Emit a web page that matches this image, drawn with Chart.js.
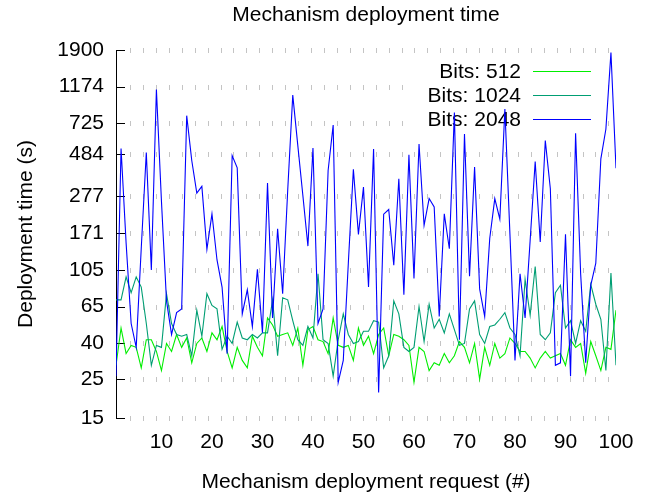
<!DOCTYPE html>
<html>
<head>
<meta charset="utf-8">
<script src="https://cdn.jsdelivr.net/npm/chart.js@4.4.1/dist/chart.umd.min.js"></script>
<style>
  html, body { margin: 0; padding: 0; background: #fff; }
</style>
</head>
<body>
<canvas id="chart" width="657" height="496"></canvas>
<script>
// Request numbers (x) and deployment times in seconds per key size
const requests = [
  1, 2, 3, 4, 5, 6, 7, 8, 9, 10, 11, 12, 13, 14, 15, 16, 17, 18, 19, 20,
  21, 22, 23, 24, 25, 26, 27, 28, 29, 30, 31, 32, 33, 34, 35, 36, 37, 38, 39, 40,
  41, 42, 43, 44, 45, 46, 47, 48, 49, 50, 51, 52, 53, 54, 55, 56, 57, 58, 59, 60,
  61, 62, 63, 64, 65, 66, 67, 68, 69, 70, 71, 72, 73, 74, 75, 76, 77, 78, 79, 80,
  81, 82, 83, 84, 85, 86, 87, 88, 89, 90, 91, 92, 93, 94, 95, 96, 97, 98, 99, 100
];
const bits512 = [
  30, 49, 35, 39, 38, 29, 42, 42, 36, 28,
  40, 36, 45, 38, 43, 31, 40, 43, 36, 46,
  42, 50, 36, 29, 38, 32, 29, 44, 38, 34,
  56, 51, 44, 45, 46, 39, 49, 30, 48, 50,
  42, 41, 35, 56, 39, 38, 39, 32, 49, 39,
  44, 35, 45, 49, 34, 45, 44, 42, 39, 24,
  38, 36, 28, 31, 30, 35, 31, 34, 41, 38,
  31, 40, 25, 38, 30, 40, 33, 35, 43, 40,
  36, 36, 33, 29, 33, 36, 33, 34, 35, 30,
  42, 38, 40, 27, 41, 34, 28, 38, 37, 62
];
const bits1024 = [
  71, 71, 96, 78, 96, 84, 52, 30, 39, 38,
  77, 52, 45, 44, 45, 34, 62, 44, 77, 66,
  63, 37, 44, 40, 53, 43, 42, 45, 43, 46,
  46, 71, 34, 73, 71, 54, 42, 39, 50, 43,
  100, 42, 40, 26, 42, 59, 45, 40, 41, 47,
  47, 54, 53, 29, 34, 70, 59, 38, 36, 38,
  65, 41, 67, 49, 55, 46, 59, 48, 39, 40,
  63, 70, 45, 40, 50, 51, 55, 60, 49, 45,
  34, 93, 58, 110, 45, 42, 46, 78, 86, 49,
  54, 40, 54, 47, 87, 67, 55, 28, 101, 30
];
const bits2048 = [
  26, 520, 150, 52, 38, 140, 493, 105, 1131, 260,
  70, 45, 60, 63, 801, 444, 289, 316, 138, 220,
  120, 84, 35, 474, 403, 59, 81, 50, 106, 46,
  330, 56, 181, 77, 300, 1050, 540, 280, 144, 524,
  52, 63, 389, 708, 24, 32, 115, 395, 168, 313,
  84, 517, 21, 219, 233, 112, 349, 76, 478, 94,
  552, 189, 269, 241, 57, 220, 139, 836, 42, 630,
  97, 407, 82, 57, 159, 269, 205, 874, 168, 32,
  100, 56, 155, 438, 152, 577, 306, 30, 31, 168,
  26, 636, 100, 31, 86, 115, 454, 672, 1837, 401
];
const seriesNames = ['Bits: 512', 'Bits: 1024', 'Bits: 2048'];
const seriesColors = ['#00ee00', '#009e73', '#0000ff'];
const xTicks = [10, 20, 30, 40, 50, 60, 70, 80, 90, 100];
const yTicks = [15, 25, 40, 65, 105, 171, 277, 484, 725, 1174, 1900];

const font = { family: '"Liberation Sans", Arial, sans-serif', size: 21 };

// gnuplot-like decorations: dashed grid rows, inward ticks, key box
const gnuplotDecor = {
  id: 'gnuplotDecor',
  beforeDatasetsDraw(chart) {
    const { ctx, chartArea: a, scales: { y } } = chart;
    ctx.save();

    ctx.fillStyle = '#c4c4c4';
    yTicks.forEach(v => {
      const py = Math.round(y.getPixelForValue(v));
      for (let px = a.left + 14; px < a.right - 1; px += 12.93) {
        ctx.fillRect(Math.round(px), py - 2, 1, 5);
      }
    });

    ctx.strokeStyle = '#000';
    ctx.lineWidth = 1;
    yTicks.forEach(v => {
      const py = Math.round(y.getPixelForValue(v)) + 0.5;
      ctx.beginPath();
      ctx.moveTo(a.left, py);
      ctx.lineTo(a.left + 9, py);
      ctx.stroke();
    });

    const right = a.right - 95;
    ctx.fillStyle = '#fff';
    ctx.fillRect(right - 112, a.top + 9, 190, 74);
    ctx.font = '21px "Liberation Sans", Arial, sans-serif';
    ctx.textAlign = 'right';
    ctx.textBaseline = 'middle';
    seriesNames.forEach((name, i) => {
      const ky = a.top + 22 + i * 24;
      ctx.fillStyle = '#000';
      ctx.fillText(name, right, ky);
      ctx.strokeStyle = seriesColors[i];
      ctx.lineWidth = 1.2;
      ctx.beginPath();
      ctx.moveTo(right + 12, Math.round(ky) - 0.5);
      ctx.lineTo(right + 70, Math.round(ky) - 0.5);
      ctx.stroke();
    });
    ctx.restore();
  }
};

const toPoints = values => values.map((v, i) => ({ x: requests[i], y: v }));

const lineStyle = {
  borderWidth: 1.1,
  pointRadius: 0,
  tension: 0,
  fill: false
};

new Chart(document.getElementById('chart'), {
  type: 'line',
  data: {
    datasets: [
      { label: seriesNames[0], data: toPoints(bits512), borderColor: seriesColors[0], order: 3, ...lineStyle },
      { label: seriesNames[1], data: toPoints(bits1024), borderColor: seriesColors[1], order: 2, ...lineStyle },
      { label: seriesNames[2], data: toPoints(bits2048), borderColor: seriesColors[2], order: 1, ...lineStyle }
    ]
  },
  options: {
    responsive: false,
    animation: false,
    devicePixelRatio: 1,
    layout: { padding: { left: 0, right: 41, top: 0, bottom: 0 } },
    plugins: {
      legend: { display: false },
      title: { display: false },
      tooltip: { enabled: false }
    },
    scales: {
      x: {
        type: 'linear',
        position: 'bottom',
        min: 1,
        max: 100,
        afterBuildTicks: s => { s.ticks = xTicks.map(v => ({ value: v })); },
        afterFit: s => { s.height = 78; },
        grid: { display: false, drawTicks: false },
        border: { display: false },
        ticks: { color: '#000', font, padding: 12, maxRotation: 0, autoSkip: false },
        title: {
          display: true,
          text: 'Mechanism deployment request (#)',
          color: '#000',
          font,
          padding: { top: 0, bottom: 1 }
        }
      },
      top: {
        type: 'linear',
        position: 'top',
        min: 1,
        max: 100,
        afterFit: s => { s.height = 50; },
        grid: { display: false, drawTicks: false },
        border: { display: false },
        ticks: { display: false },
        title: {
          display: true,
          text: 'Mechanism deployment time',
          color: '#000',
          font,
          padding: { top: 3, bottom: 0 }
        }
      },
      y: {
        type: 'logarithmic',
        min: 15,
        max: 1900,
        afterBuildTicks: s => { s.ticks = yTicks.map(v => ({ value: v })); },
        afterFit: s => { s.width = 116; },
        grid: { display: false, drawTicks: false },
        border: { display: true, color: '#000', width: 1 },
        ticks: { color: '#000', font, padding: 12, callback: v => String(v) },
        title: {
          display: true,
          text: 'Deployment time (s)',
          color: '#000',
          font,
          padding: { top: 14, bottom: 0 }
        }
      }
    }
  },
  plugins: [gnuplotDecor]
});
</script>
</body>
</html>
